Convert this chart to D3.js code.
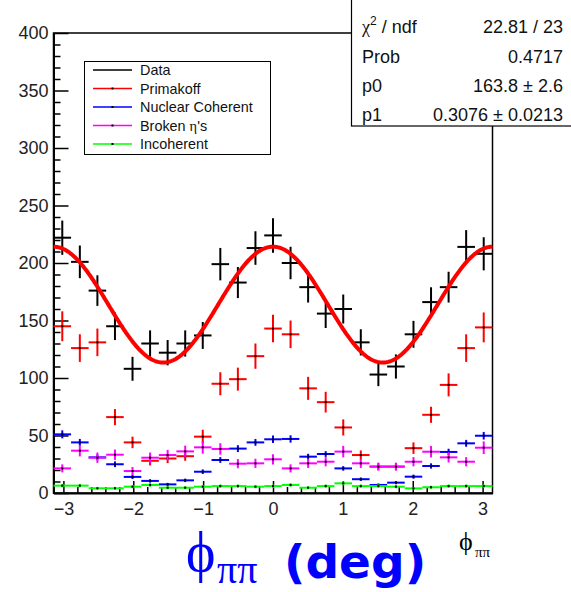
<!DOCTYPE html>
<html><head><meta charset="utf-8">
<script src="https://cdn.jsdelivr.net/npm/d3@7"></script>
<style>body{margin:0;background:#fff;overflow:hidden}</style>
</head><body>
<svg id="c" width="571" height="592"></svg>
<script>
// ---- data ----
const phiCenters = [-3.0159,-2.7646,-2.5133,-2.2619,-2.0106,-1.7593,-1.5080,-1.2566,-1.0053,-0.7540,-0.5027,-0.2513,0,
                    0.2513,0.5027,0.7540,1.0053,1.2566,1.5080,1.7593,2.0106,2.2619,2.5133,2.7646,3.0159];
const binHalfWidth = 0.12566;
const dataValues = [222,201,176,145,108,130,122,130,137,199,183,213,224,200,179,156,160,131,103,110,138,166,179,214,208];
const dataErrors = [14.9,14.2,13.3,12.0,10.4,11.4,11.0,11.4,11.7,14.1,13.5,14.6,15.0,14.1,13.4,12.5,12.6,11.4,10.1,10.5,11.7,12.9,13.4,14.6,14.4];
const primakoffValues = [145,126,131,66,44,28,30,32,49,95,99,119,143,138,91,79,57,33,23,23,39,68,94,126,144];
const primakoffErrors = [13,12,12,7,5,4,4,4,6,10,10,11,12,12,10,9,7,4,3,3,5,7,10,12,13];
const coherentValues = [51,44,31,25,14,10.5,7.5,11,18.5,28.7,38.6,44,46.7,47,31.6,33.9,21.4,12,7,9,14.2,23.5,35.7,43.2,49.8];
const coherentErrors = [3.5,3,2.5,2.5,1.8,1.5,1.3,1.5,2,2.5,3,3,3.2,3.2,2.5,2.5,2,1.5,1.3,1.4,1.8,2.3,2.8,3,3.3];
const brokenValues = [21.4,36.8,30.7,33.3,19.1,30.7,33,36.2,39.7,38.3,25.5,25.8,29.3,21.4,25.8,27.2,36,25.8,22.9,22.9,27.2,35.9,31,27.2,39.4];
const brokenErrors = [3.5,5,4.5,4.5,3.5,4.5,4.5,5,5.5,5,4,4,4.5,3.5,4,4,5,4,3.5,3.5,4,5,4.5,4,5.5];
const incoherentValues = [6.4,6.4,4.1,4.1,5.5,7,4.6,4.6,5.5,6,6,5.5,6,7,4.6,6,8.4,6,6,5.5,4,5,6,6,6];
const incoherentErrors = [1.5,1.5,1.2,1.2,1.4,1.6,1.3,1.3,1.4,1.5,1.5,1.4,1.5,1.6,1.3,1.5,1.7,1.5,1.5,1.4,1.2,1.3,1.5,1.5,1.5];
const fitP0 = 163.8, fitP1 = 0.3076;
const statsLabels = ["χ", "Prob", "p0", "p1"];
const statsValues = ["22.81 / 23", "0.4717", "163.8 ± 2.6", "0.3076 ± 0.0213"];
const legendLabels = ["Data", "Primakoff", "Nuclear Coherent", "Broken η's", "Incoherent"];
const legendColors = ["#000000", "#ff0000", "#0000ff", "#ff00ff", "#00ff00"];
const xTicks = [-3,-2,-1,0,1,2,3];
const yTicks = [0,50,100,150,200,250,300,350,400];

// ---- layout ----
const svg = d3.select("#c");
const FONT = "'Liberation Sans', Arial, Helvetica, sans-serif";
const SERIF = "'Liberation Serif', 'DejaVu Serif', serif";
const x = d3.scaleLinear().domain([-Math.PI, Math.PI]).range([53.5, 492.5]);
const y = d3.scaleLinear().domain([0, 400]).range([493, 33]);

// frame
svg.append("rect").attr("x", 53.5).attr("y", 33).attr("width", 439).attr("height", 460)
  .attr("fill", "none").attr("stroke", "#000").attr("stroke-width", 1.5);

// y axis
const yMinor = d3.range(0, 401, 10).filter(v => v % 50 !== 0);
svg.append("g").attr("transform", "translate(53.5,0)")
  .call(d3.axisLeft(y).tickValues(yMinor).tickSize(-7).tickFormat(""))
  .call(g => g.select(".domain").remove())
  .selectAll("line").attr("stroke-width", 1.5);
const ya = svg.append("g").attr("transform", "translate(53.5,0)")
  .call(d3.axisLeft(y).tickValues(yTicks).tickSize(-15).tickPadding(5).tickSizeOuter(0));
ya.select(".domain").attr("stroke-width", 2);
ya.selectAll("line").attr("stroke-width", 1.5);
ya.selectAll("text").attr("font-family", FONT).attr("font-size", 18).attr("fill", "#222");

// x axis
const xMinor = d3.range(-15, 16).map(i => i / 5).filter(v => Math.abs(v - Math.round(v)) > 1e-6);
svg.append("g").attr("transform", "translate(0,493)")
  .call(d3.axisBottom(x).tickValues(xMinor).tickSize(-6).tickFormat(""))
  .call(g => g.select(".domain").remove())
  .selectAll("line").attr("stroke-width", 1.5);
const xa = svg.append("g").attr("transform", "translate(0,493)")
  .call(d3.axisBottom(x).tickValues(xTicks).tickFormat(d3.format("d")).tickSize(-12).tickPadding(9).tickSizeOuter(0));
xa.select(".domain").attr("stroke-width", 2);
xa.selectAll("line").attr("stroke-width", 1.5);
xa.selectAll("text").attr("font-family", FONT).attr("font-size", 18).attr("fill", "#222");

// error-cross series
function drawSeries(vals, errs, color, dots, width) {
  const g = svg.append("g").attr("stroke", color).attr("stroke-width", width);
  vals.forEach((v, i) => {
    const c = phiCenters[i];
    g.append("line").attr("x1", x(c - binHalfWidth)).attr("x2", x(c + binHalfWidth))
      .attr("y1", y(v)).attr("y2", y(v));
    g.append("line").attr("x1", x(c)).attr("x2", x(c))
      .attr("y1", y(v - errs[i])).attr("y2", y(v + errs[i]));
    if (dots) svg.append("rect").attr("x", x(c) - 1).attr("y", y(v) - 1)
      .attr("width", 2).attr("height", 2).attr("fill", "#000");
  });
}
drawSeries(dataValues, dataErrors, "#000", false, 2);

// fit curve  f = p0 * (1 + p1 cos 2phi)
const fitPts = d3.range(0, 401).map(i => -Math.PI + i * 2 * Math.PI / 400);
svg.append("path")
  .attr("d", d3.line().x(p => x(p)).y(p => y(fitP0 * (1 + fitP1 * Math.cos(2 * p))))(fitPts))
  .attr("fill", "none").attr("stroke", "#ff0000").attr("stroke-width", 4);

drawSeries(primakoffValues, primakoffErrors, "#ff0000", true, 2);
drawSeries(coherentValues, coherentErrors, "#0000ff", true, 2);
drawSeries(brokenValues, brokenErrors, "#ff00ff", true, 2);
drawSeries(incoherentValues, incoherentErrors, "#00ff00", true, 2);

// legend
const lg = svg.append("g");
lg.append("rect").attr("x", 84.5).attr("y", 61.5).attr("width", 186).attr("height", 93)
  .attr("fill", "#fff").attr("stroke", "#000").attr("stroke-width", 1);
legendLabels.forEach((lab, i) => {
  const yy = 70 + i * 18.5;
  lg.append("line").attr("x1", 93).attr("x2", 132).attr("y1", yy).attr("y2", yy)
    .attr("stroke", legendColors[i]).attr("stroke-width", 1.5);
  if (i > 0) lg.append("rect").attr("x", 111.5).attr("y", yy - 1).attr("width", 2).attr("height", 2).attr("fill", "#000");
  const t = lg.append("text").attr("x", 140).attr("y", yy + 5).attr("font-family", FONT)
    .attr("font-size", 14.4).attr("fill", "#111");
  if (lab.includes("η")) {
    t.append("tspan").text("Broken ");
    t.append("tspan").attr("font-family", SERIF).text("η");
    t.append("tspan").text("'s");
  } else t.text(lab);
});

// stats box
const sb = svg.append("g");
sb.append("rect").attr("x", 351.5).attr("y", -2).attr("width", 222).attr("height", 128)
  .attr("fill", "#fff").attr("stroke", "#000").attr("stroke-width", 1.2);
const rowY = [33, 63, 92, 121];
statsLabels.forEach((lab, i) => {
  const t = sb.append("text").attr("x", 362).attr("y", rowY[i]).attr("font-family", FONT)
    .attr("font-size", 18).attr("fill", "#111");
  if (i === 0) {
    t.append("tspan").attr("font-family", SERIF).text("χ");
    t.append("tspan").attr("font-size", 12).attr("dy", -8).text("2");
    t.append("tspan").attr("dy", 8).text(" / ndf");
  } else t.text(lab);
  sb.append("text").attr("x", 563).attr("y", rowY[i]).attr("text-anchor", "end")
    .attr("font-family", FONT).attr("font-size", 18).attr("fill", "#111").text(statsValues[i]);
});

// small axis title (ROOT)
svg.append("text").attr("x", 459).attr("y", 550).attr("font-family", SERIF)
  .attr("font-size", 26).attr("fill", "#000").text("ϕ");
svg.append("text").attr("x", 475).attr("y", 557).attr("font-family", SERIF)
  .attr("font-size", 15).attr("fill", "#000").text("ππ");

// big blue label
svg.append("text").attr("x", 186).attr("y", 571).attr("font-family", SERIF)
  .attr("font-size", 56).attr("fill", "#0000ff").text("ϕ");
svg.append("text").attr("x", 217).attr("y", 583).attr("font-family", SERIF)
  .attr("font-size", 40).attr("fill", "#0000ff").text("ππ");
svg.append("text").attr("x", 284).attr("y", 578).attr("font-family", "'DejaVu Sans', sans-serif")
  .attr("font-size", 47).attr("font-weight", "bold").attr("fill", "#0000ff").text("(deg)");
</script>
</body></html>
